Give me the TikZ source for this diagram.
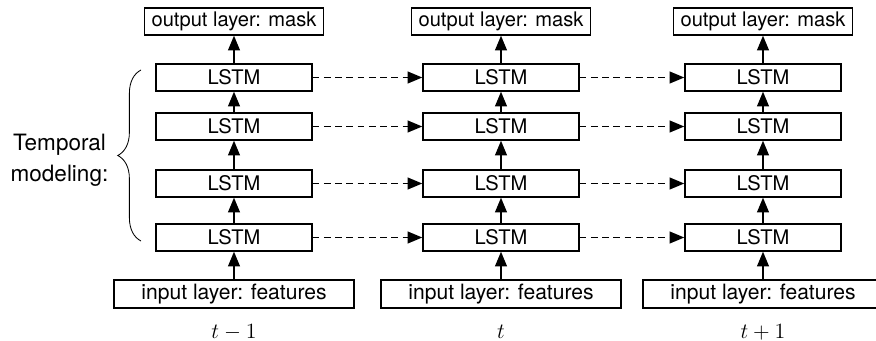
\RequirePackage{fix-cm}
\documentclass[tikz,border=0pt]{standalone}
\usepackage{fontspec}
\newfontfamily\hv{TeX Gyre Heros}
\usepackage{tikz}
\usetikzlibrary{arrows.meta,decorations.pathreplacing}

\begin{document}
\begin{tikzpicture}[x=0.025cm,y=-0.025cm,
  lstm/.style={draw,rectangle,line width=1pt,minimum width=3.9cm,minimum height=0.675cm,inner sep=0pt,font=\hv\fontsize{14.3}{17}\selectfont},
  outbox/.style={lstm,minimum width=4.475cm},
  inbox/.style={lstm,minimum width=6cm,minimum height=0.7cm,font=\hv\fontsize{15}{18}\selectfont},
  up/.style={-{Triangle[length=10.5pt,width=8.5pt]},line width=1pt},
  rec/.style={up,dash pattern=on 4.8pt off 3.2pt}]
\useasboundingbox (0,0) rectangle (876,341);
% one column per time step
\foreach \c/\x/\lab in {1/234/t-1,2/501/t,3/763/t+1}{
  \node[outbox] (o\c) at (\x,21.5) {output layer: mask};
  \node[lstm] (a\c) at (\x,77.5) {LSTM};
  \node[lstm] (b\c) at (\x,126.5) {LSTM};
  \node[lstm] (c\c) at (\x,183.5) {LSTM};
  \node[lstm] (d\c) at (\x,237.5) {LSTM};
  \node[inbox] (i\c) at (\x,294) {input layer: features};
  \node[font=\fontsize{15.5}{18}\selectfont] (t\c) at (\x,332) {$\lab$};
  \draw[up] (i\c) -- (d\c);
  \draw[up] (d\c) -- (c\c);
  \draw[up] (c\c) -- (b\c);
  \draw[up] (b\c) -- (a\c);
  \draw[up] (a\c) -- (o\c);
}
% recurrent connections
\foreach \c/\n in {1/2,2/3}
  \foreach \r in {a,b,c,d}
    \draw[rec] (\r\c) -- (\r\n);
\coordinate (bt) at (141,241);
\coordinate (bb) at (141,70);
\draw[decorate,decoration={brace,amplitude=0.58cm},line width=0.6pt] (bt) -- (bb);
\node[font=\hv\fontsize{16}{22}\selectfont,align=center] (tm) at (59.5,160) {Temporal\\modeling:};
\end{tikzpicture}
\end{document}
